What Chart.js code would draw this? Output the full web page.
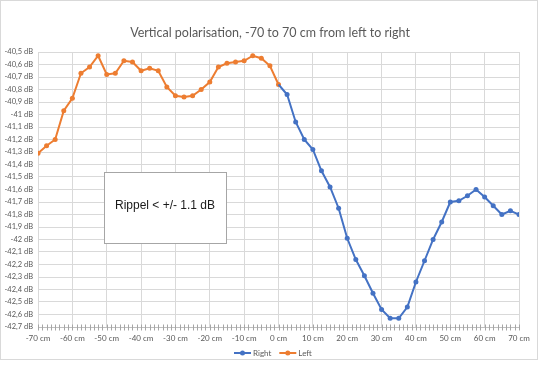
<!DOCTYPE html>
<html>
<head>
<meta charset="utf-8">
<script src="https://cdn.jsdelivr.net/npm/chart.js@4/dist/chart.umd.min.js"></script>
<style>
  body { margin: 0; background: #fff; }
</style>
</head>
<body>
<canvas id="chart-1" width="551" height="369"></canvas>
<script>
// Data
const titleText = 'Vertical polarisation, -70 to 70 cm from left to right';
const noteText = 'Rippel < +/- 1.1 dB';

const leftPos = [-70, -67.5, -65, -62.5, -60, -57.5, -55, -52.5, -50, -47.5, -45, -42.5, -40, -37.5,
  -35, -32.5, -30, -27.5, -25, -22.5, -20, -17.5, -15, -12.5, -10, -7.5, -5, -2.5, 0];
const leftDb = [-41.31, -41.25, -41.20, -40.97, -40.87, -40.67, -40.62, -40.53, -40.68, -40.67, -40.57, -40.58, -40.65, -40.63,
  -40.65, -40.78, -40.85, -40.86, -40.85, -40.80, -40.74, -40.62, -40.59, -40.58, -40.57, -40.53, -40.55, -40.61, -40.76];

const rightPos = [0, 2.5, 5, 7.5, 10, 12.5, 15, 17.5, 20, 22.5, 25, 27.5, 30, 32.5,
  35, 37.5, 40, 42.5, 45, 47.5, 50, 52.5, 55, 57.5, 60, 62.5, 65, 67.5, 70];
const rightDb = [-40.76, -40.84, -41.06, -41.20, -41.28, -41.45, -41.58, -41.75, -41.99, -42.16, -42.29, -42.43, -42.56, -42.63,
  -42.63, -42.54, -42.34, -42.17, -42.00, -41.86, -41.70, -41.69, -41.65, -41.60, -41.66, -41.73, -41.80, -41.77, -41.80];

const yMin = -42.7, yMax = -40.5;
const xMin = -70, xMax = 70;

const BLUE = '#4472C4';
const ORANGE = '#ED7D31';
const TEXT = '#595959';
const FONT = 'Lato, "Liberation Sans", sans-serif';

function pairs(xs, ys) {
  return xs.map((x, i) => ({ x: x, y: ys[i] }));
}

// Title, note box, legend, axis tick marks and frame
const extras = {
  id: 'extras',
  afterDraw(chart) {
    const ctx = chart.ctx;
    const xs = chart.scales.x;
    ctx.save();

    // frame of the chart object
    ctx.strokeStyle = '#d9d9d9';
    ctx.lineWidth = 1;
    ctx.strokeRect(0.5, 0.5, 537, 359);

    // tick marks crossing the x axis
    ctx.strokeStyle = '#a6a6a6';
    const base = Math.round(xs.top) + 0.5;
    xs.ticks.forEach(t => {
      const px = Math.round(xs.getPixelForValue(t.value)) + 0.5;
      ctx.beginPath();
      ctx.moveTo(px, base - 3);
      ctx.lineTo(px, base + 3);
      ctx.stroke();
    });

    // title
    ctx.fillStyle = TEXT;
    ctx.font = '12.5px ' + FONT;
    ctx.textAlign = 'center';
    ctx.textBaseline = 'middle';
    ctx.fillText(titleText, 270, 33);

    // note box
    ctx.fillStyle = '#fff';
    ctx.fillRect(104.5, 172.5, 122, 71);
    ctx.strokeStyle = '#a6a6a6';
    ctx.strokeRect(104.5, 172.5, 122, 71);
    ctx.fillStyle = '#1a1a1a';
    ctx.font = '12px "Liberation Sans", Arial, sans-serif';
    ctx.fillText(noteText, 165, 206);

    // legend
    ctx.font = '8px ' + FONT;
    ctx.textAlign = 'left';
    let x = 234;
    const y = 353;
    chart.data.datasets.forEach(ds => {
      ctx.strokeStyle = ds.borderColor;
      ctx.lineWidth = 2;
      ctx.beginPath();
      ctx.moveTo(x, y);
      ctx.lineTo(x + 17, y);
      ctx.stroke();
      ctx.fillStyle = ds.borderColor;
      ctx.beginPath();
      ctx.arc(x + 8.5, y, 2.5, 0, Math.PI * 2);
      ctx.fill();
      ctx.fillStyle = TEXT;
      ctx.fillText(ds.label, x + 19, y);
      x += 19 + ctx.measureText(ds.label).width + 8;
    });

    ctx.restore();
  }
};

function dbLabel(v) {
  let s = (Math.round(v * 10) / 10).toFixed(1).replace('.', ',');
  if (s.endsWith(',0')) s = s.slice(0, -2);
  return s + ' dB';
}

function isMajor(v) {
  return Math.abs(Math.round(v) - v) < 1e-6 && Math.round(v) % 10 === 0;
}

const ctx1 = document.getElementById('chart-1').getContext('2d');
const chart1 = new Chart(ctx1, {
  type: 'line',
  data: {
    datasets: [{
      label: 'Right',
      data: pairs(rightPos, rightDb),
      borderColor: BLUE,
      backgroundColor: BLUE,
      borderWidth: 2,
      pointRadius: c => (c.dataIndex === 0 ? 0 : 2.5),
      pointBorderWidth: 0,
      tension: 0
    }, {
      label: 'Left',
      data: pairs(leftPos, leftDb),
      borderColor: ORANGE,
      backgroundColor: ORANGE,
      borderWidth: 2,
      pointRadius: 2.5,
      pointBorderWidth: 0,
      tension: 0
    }]
  },
  options: {
    responsive: false,
    animation: false,
    layout: { padding: { top: 52, right: 32, left: 0, bottom: 0 } },
    plugins: {
      legend: { display: false },
      title: { display: false },
      tooltip: { enabled: false }
    },
    scales: {
      x: {
        type: 'linear',
        min: xMin,
        max: xMax,
        afterFit: s => { s.height = 42; },
        afterBuildTicks: s => {
          const t = [];
          for (let i = 0; i <= (xMax - xMin) / 1.25; i++) t.push({ value: xMin + i * 1.25 });
          s.ticks = t;
        },
        ticks: {
          autoSkip: false,
          maxRotation: 0,
          minRotation: 0,
          padding: 7,
          color: TEXT,
          font: { family: FONT, size: 8 },
          callback: v => (isMajor(v) ? Math.round(v) + ' cm' : '')
        },
        grid: {
          color: c => (c.tick && isMajor(c.tick.value) ? '#d9d9d9' : 'rgba(255,255,255,0)'),
          drawTicks: false,
          lineWidth: 1
        },
        border: { color: '#bfbfbf' }
      },
      y: {
        min: yMin,
        max: yMax,
        afterFit: s => { s.width = 38; },
        afterBuildTicks: s => {
          const t = [];
          for (let i = 0; i <= Math.round((yMax - yMin) * 10); i++) t.push({ value: yMin + i / 10 });
          s.ticks = t;
        },
        ticks: {
          autoSkip: false,
          padding: 5,
          color: TEXT,
          font: { family: FONT, size: 7.5 },
          callback: v => dbLabel(v)
        },
        grid: { color: '#d9d9d9', drawTicks: false },
        border: { display: false }
      }
    }
  },
  plugins: [extras]
});
</script>
</body>
</html>
